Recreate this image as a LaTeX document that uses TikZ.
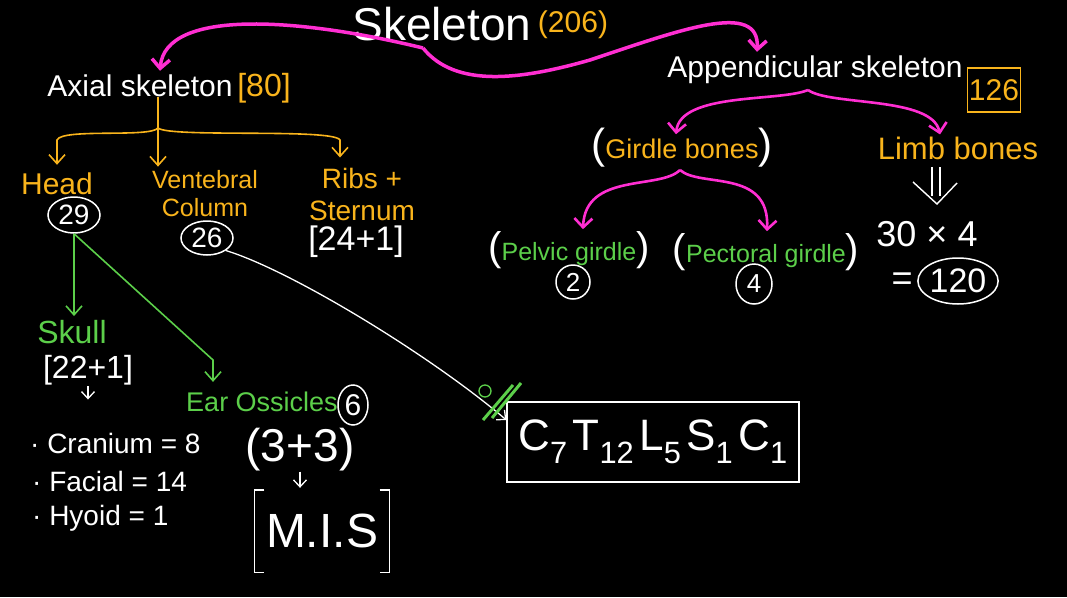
\documentclass[tikz,border=0pt]{standalone}
\usepackage{fontspec}
\setmainfont{Liberation Sans}
\usetikzlibrary{arrows.meta,shapes.geometric}

\definecolor{bonepink}{HTML}{FF2ED2}
\definecolor{boneorange}{HTML}{F9B41C}
\definecolor{bonegreen}{HTML}{5CCF4A}
\newcommand\fsz[2]{\fontsize{#1}{#2}\selectfont}

\begin{document}
\begin{tikzpicture}[x=1pt, y=-1pt,
  txt/.style={inner sep=0pt, text=white},
  ornge/.style={inner sep=0pt, text=boneorange},
  grn/.style={inner sep=0pt, text=bonegreen},
  ring/.style={draw=white, line width=1.5pt, ellipse, inner sep=0pt, text=white},
  wline/.style={draw=white, line width=1.4pt},
  pinkarr/.style={draw=bonepink, line width=3.5pt, -{Straight Barb[length=9pt,width=18pt]}},
  orarr/.style={draw=boneorange, line width=1.6pt, -{Straight Barb[length=9pt,width=16pt]}},
  grarr/.style={draw=bonegreen, line width=1.6pt, -{Straight Barb[length=9pt,width=16pt]}},
  warr/.style={draw=white, line width=1.3pt, -{Straight Barb[length=7pt,width=13pt]}}]
  \path[use as bounding box, fill=black] (0,0) rectangle (1067,597);
  % title
  \node[txt, font=\fsz{46}{50}] (skel) at (442,24) {Skeleton};
  \node[ornge, font=\fsz{30}{32}] (total) at (573,25) {(206)};
  \coordinate (brtop) at (423,48);
  % axial skeleton
  \node[txt, font=\fsz{30}{34}] (axial) at (140,86) {Axial skeleton};
  \node[ornge, font=\fsz{32}{34}] (axnum) at (264,88) {[80]};
  \draw[pinkarr] (brtop) .. controls (300,18) and (165,8) .. ([xshift=20pt,yshift=4pt]axial.north);
  \node[ornge, font=\fsz{30}{32}] (head) at (57,184) {Head};
  \node[ring, minimum width=52, minimum height=36, font=\fsz{28}{30}] (h29) at (74,215) {29};
  \node[ornge, font=\fsz{25}{28}, align=center] (vert) at (205,194) {Ventebral\\Column};
  \node[ring, minimum width=52, minimum height=34, font=\fsz{28}{30}] (v26) at (207,238) {26};
  \node[ornge, font=\fsz{28}{32}, align=center] (ribs) at (362,194) {Ribs +\\Sternum};
  \node[txt, font=\fsz{34}{36}] (ribsnum) at (356,242) {[24+1]};
  % orange fork
  \coordinate (axfork) at (158,128);
  \coordinate (headbend) at (57,140);
  \coordinate (ribsbend) at (340,140);
  \draw[draw=boneorange, line width=1.6pt] ([xshift=18pt]axial.south) -- (axfork);
  \draw[orarr, shorten >=8pt] (axfork) .. controls (150,138) and (62,128) .. (headbend) -- (headbend |- head.north);
  \draw[orarr, shorten >=4pt] (axfork) -- (axfork |- vert.north);
  \draw[orarr, shorten >=10pt] (axfork) .. controls (170,138) and (333,128) .. (ribsbend) -- (ribsbend |- ribs.north);
  % head
  \node[grn, font=\fsz{32}{34}] (skull) at (72,332) {Skull};
  \node[txt, font=\fsz{32}{34}] (skullnum) at (88,370) {[22+1]};
  \node[txt, font=\fsz{28}{30}, anchor=west] (cran) at (30,443) {· Cranium = 8};
  \node[txt, font=\fsz{28}{30}, anchor=west] (facial) at (32,481) {· Facial = 14};
  \node[txt, font=\fsz{28}{30}, anchor=west] (hyoid) at (32,518) {· Hyoid = 1};
  \node[grn, font=\fsz{27}{30}] (ear) at (262,402) {Ear Ossicles};
  \node[ring, minimum width=30, minimum height=40, font=\fsz{30}{32}] (six) at (353,405) {6};
  \node[txt, font=\fsz{46}{48}] (pair) at (300,450) {(3+3)};
  \node[txt, font=\fsz{48}{50}, minimum width=135, minimum height=82] (mis) at (322,531) {M.I.S};
  \draw[wline] ([xshift=10pt]mis.north west) -- (mis.north west) -- (mis.south west) -- ([xshift=10pt]mis.south west);
  \draw[wline] ([xshift=-10pt]mis.north east) -- (mis.north east) -- (mis.south east) -- ([xshift=-10pt]mis.south east);
  \coordinate (earbend) at (213,360);
  \draw[grarr, shorten >=4pt] (h29.south) -- (h29.south |- skull.north);
  \draw[grarr, shorten >=10pt] (h29.south) -- (earbend) -- (earbend |- ear.north);
  \draw[warr, shorten <=1pt, shorten >=33pt] (skullnum.south) -- (skullnum.south |- cran.north);
  \draw[warr, shorten >=2pt] (pair.south) -- (pair.south |- mis.north);
  % vertebral column
  \node[txt, draw=white, line width=1.3pt, minimum width=292, minimum height=80, font=\fsz{44}{46}] (vbox) at (653,442)
    {C\textsubscript{7}\kern5pt T\textsubscript{12}\kern5pt L\textsubscript{5}\kern5pt S\textsubscript{1}\kern5pt C\textsubscript{1}};
  \draw[warr] (v26.south east) .. controls (290,270) and (430,355) .. ([yshift=22pt]vbox.west);
  \draw[bonegreen, line width=1.3pt] (485,391) circle[radius=6pt];
  \draw[bonegreen, line width=3pt] (483,420) -- (513,385);
  \draw[bonegreen, line width=3pt] (492,418) -- (521,383);
  % appendicular skeleton
  \node[txt, font=\fsz{30}{34}] (app) at (815,70) {Appendicular skeleton};
  \node[ornge, draw=boneorange, line width=1.3pt, minimum width=53, minimum height=44, font=\fsz{30}{32}] (appnum) at (994,90) {126};
  \draw[pinkarr] (brtop) .. controls (455,88) and (520,80) .. (590,60) .. controls (680,30) and (760,0) .. ([xshift=-58pt,yshift=4pt]app.north);
  \node[ornge, font=\fsz{27}{30}] (girdle) at (682,148) {{\color{white}\fsz{42}{42}(}Girdle bones{\color{white}\fsz{42}{42})}};
  \node[ornge, font=\fsz{31}{33}] (limb) at (958,148) {Limb bones};
  \coordinate (appfork) at (808,90);
  \draw[pinkarr, line width=2.6pt] (appfork) .. controls (780,102) and (680,92) .. ([xshift=-6pt,yshift=-6pt]girdle.north);
  \draw[pinkarr, line width=2.6pt] (appfork) .. controls (830,106) and (932,96) .. ([xshift=-18pt,yshift=2pt]limb.north);
  % girdles
  \node[grn, font=\fsz{25}{28}] (pelvic) at (569,250) {{\color{white}\fsz{40}{40}(}Pelvic girdle{\color{white}\fsz{40}{40})}};
  \node[grn, font=\fsz{25}{28}] (pector) at (766,252) {{\color{white}\fsz{40}{40}(}Pectoral girdle{\color{white}\fsz{40}{40})}};
  \node[ring, minimum width=34, minimum height=34, font=\fsz{26}{28}] (p2) at (573,282) {2};
  \node[ring, minimum width=36, minimum height=40, font=\fsz{26}{28}] (p4) at (754,284) {4};
  \coordinate (girdfork) at (680,170);
  \draw[pinkarr, line width=2.6pt] (girdfork) .. controls (660,190) and (585,172) .. ([xshift=14pt,yshift=2pt]pelvic.north);
  \draw[pinkarr, line width=2.6pt] (girdfork) .. controls (700,188) and (770,168) .. ([xshift=1pt,yshift=2pt]pector.north);
  % limb bones
  \node[txt, font=\fsz{36}{38}] (calc) at (927,234) {30 × 4};
  \node[txt, font=\fsz{36}{38}] (eq) at (902,282) {=};
  \node[ring, minimum width=66, minimum height=46, font=\fsz{34}{36}] (c120) at (958,281) {120};
  \draw[wline] (932,167) -- (932,196);
  \draw[wline] (940,167) -- (940,196);
  \draw[wline] (913,182) -- (937,204) -- (957,183);
\end{tikzpicture}
\end{document}
